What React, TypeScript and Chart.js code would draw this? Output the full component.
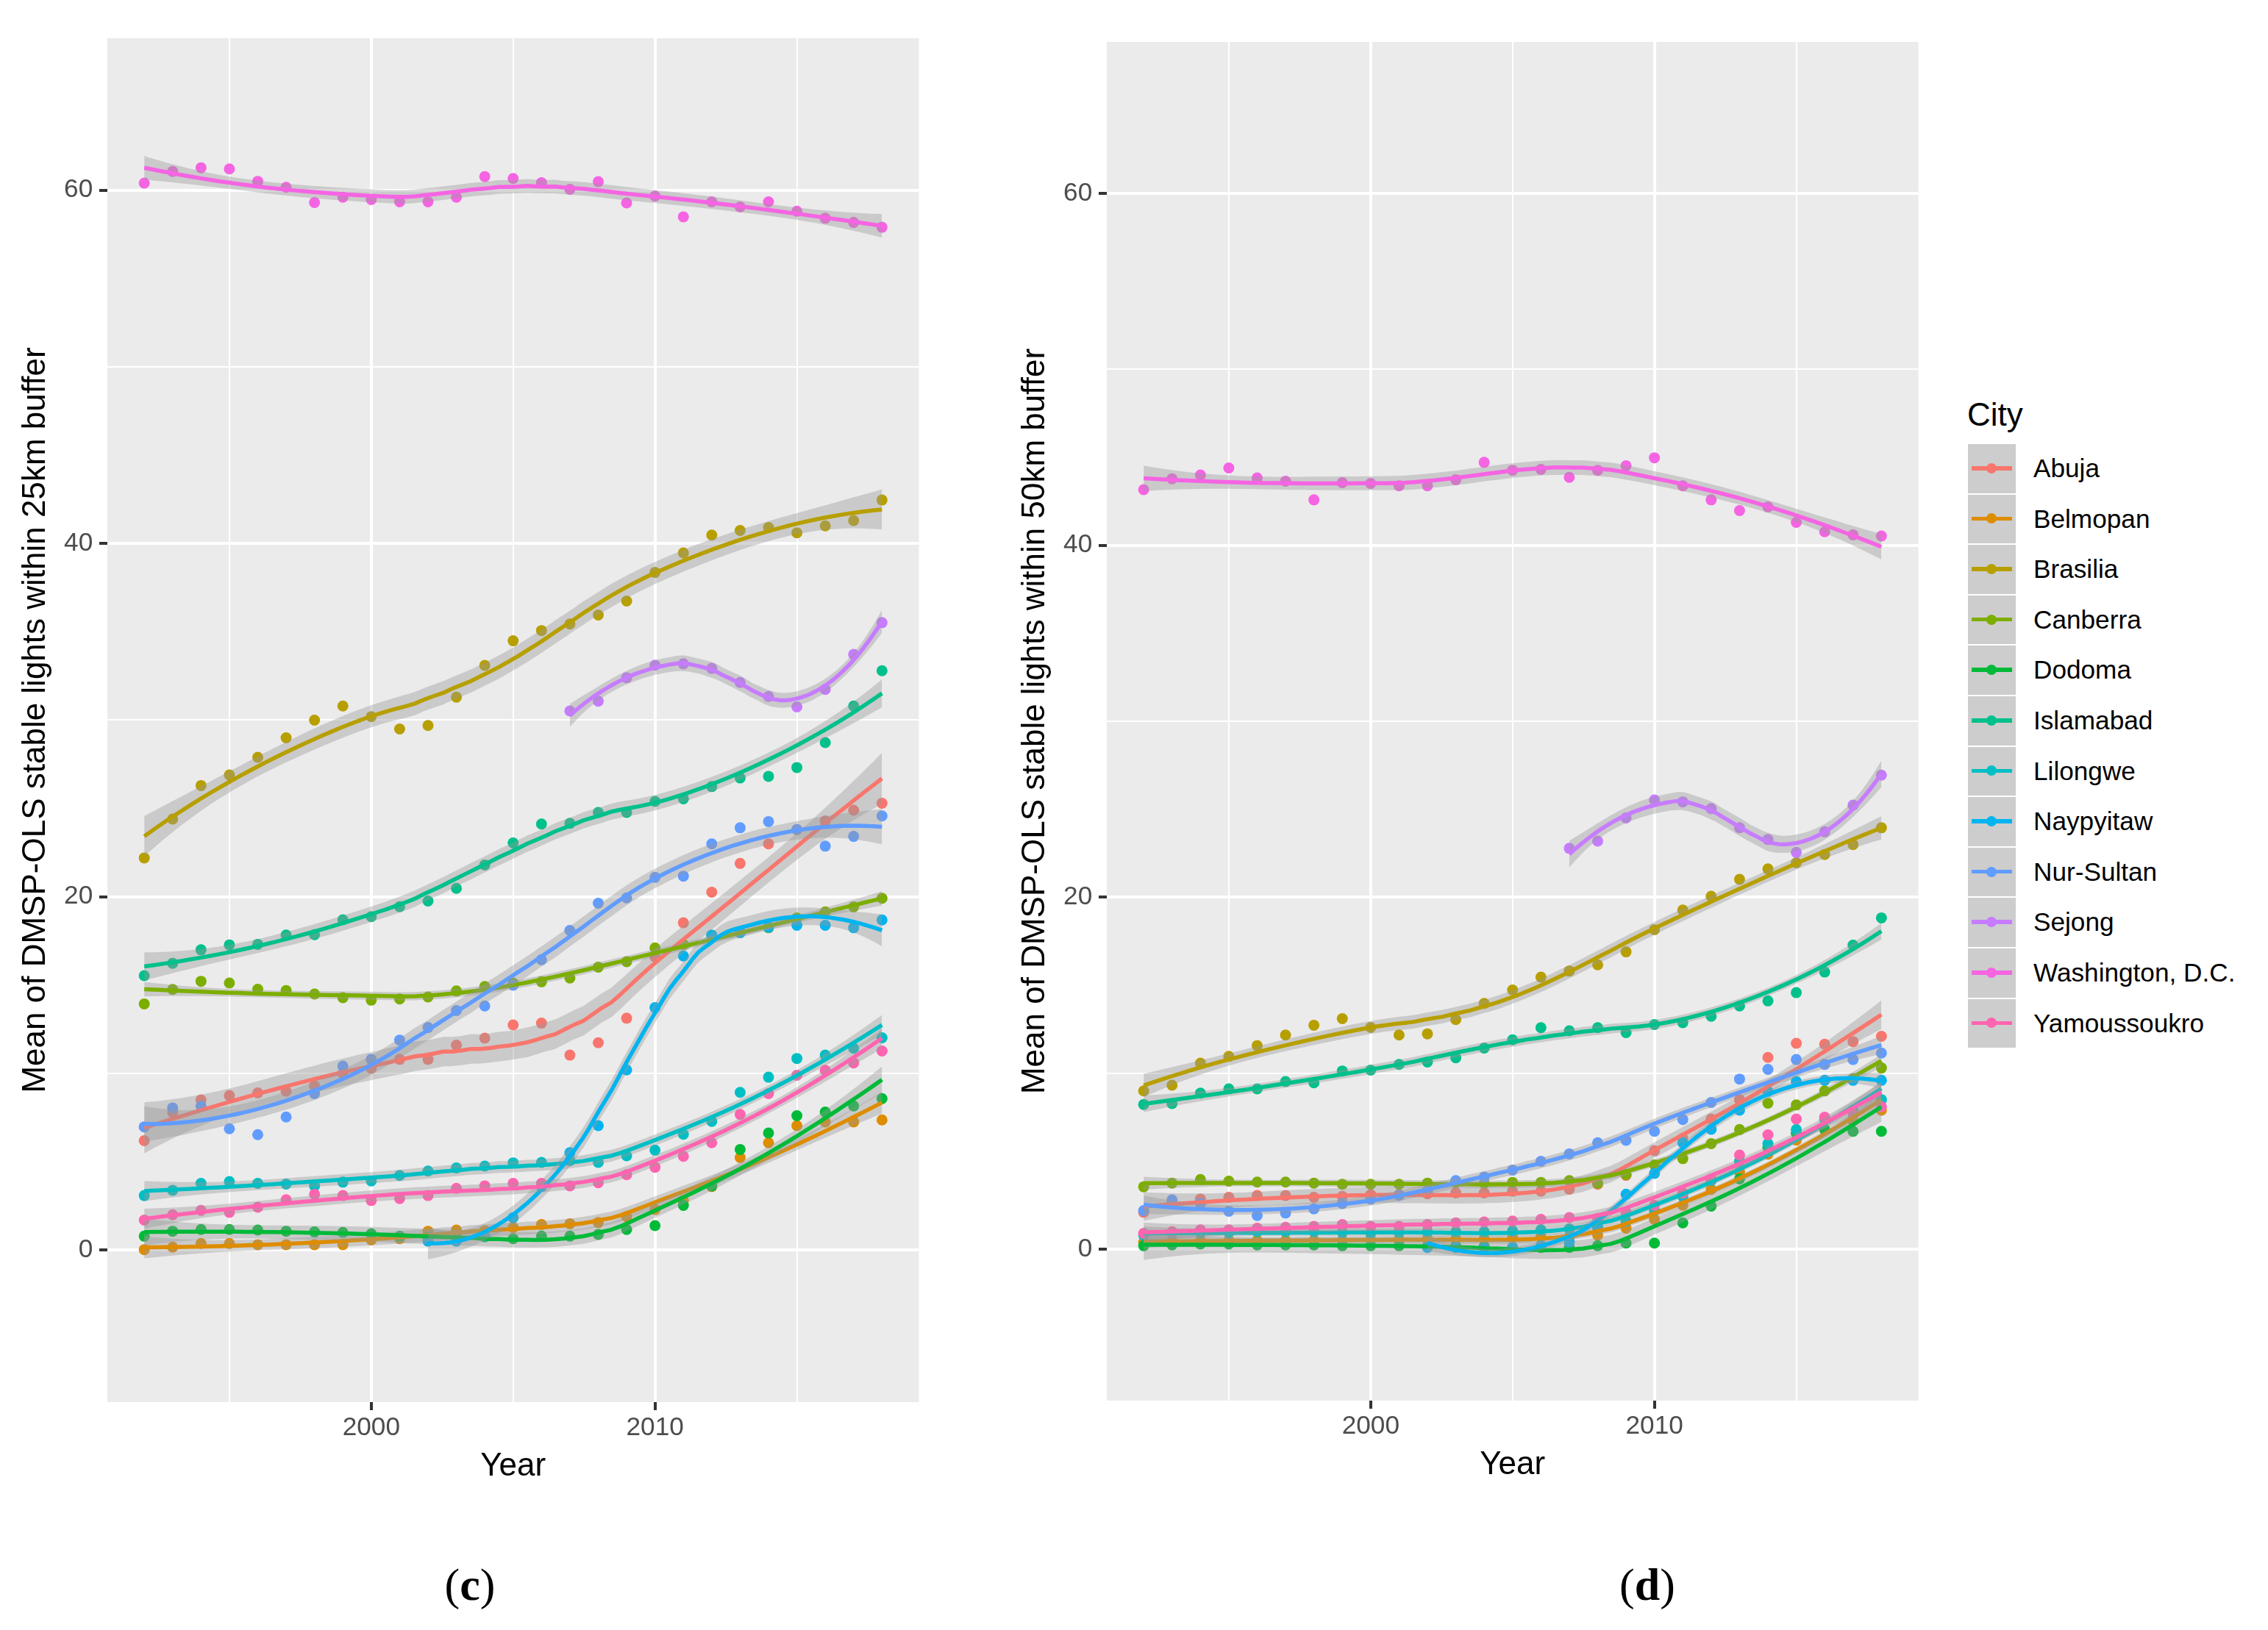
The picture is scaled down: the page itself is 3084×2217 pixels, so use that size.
import React, { useEffect, useRef } from "react";
import { Chart, registerables } from "chart.js";

Chart.register(...registerables);

// ---------------- data ----------------
const years = [1992, 1993, 1994, 1995, 1996, 1997, 1998, 1999, 2000, 2001, 2002, 2003, 2004, 2005, 2006, 2007, 2008, 2009, 2010, 2011, 2012, 2013, 2014, 2015, 2016, 2017, 2018];

const cities = ["Abuja", "Belmopan", "Brasilia", "Canberra", "Dodoma", "Islamabad", "Lilongwe", "Naypyitaw", "Nur-Sultan", "Sejong", "Washington, D.C.", "Yamoussoukro"];
const cityColors = ["#F8766D", "#DE8C00", "#B79F00", "#7CAE00", "#00BA38", "#00C08B", "#00BFC4", "#00B4F0", "#619CFF", "#C77CFF", "#F564E3", "#FF64B0"];

const N = null;

// (c) 25 km buffer
const abuja25 = [6.2, 7.8, 8.5, 8.75, 8.9, 9.0, 9.3, 10.0, 10.3, 10.8, 10.8, 11.6, 12.0, 12.75, 12.85, 11.04, 11.74, 13.13, 16.6, 18.53, 20.26, 21.89, 23.0, 23.8, 24.3, 24.9, 25.3];
const belmopan25 = [0.03, 0.17, 0.38, 0.38, 0.31, 0.31, 0.31, 0.31, 0.58, 0.65, 1.07, 1.14, 1.1, 1.28, 1.45, 1.49, 1.56, 1.9, 2.3, 2.8, 3.6, 5.24, 6.08, 7.05, 7.26, 7.26, 7.37];
const brasilia25 = [22.2, 24.4, 26.3, 26.9, 27.9, 29.0, 30.0, 30.8, 30.2, 29.5, 29.7, 31.3, 33.1, 34.49, 35.07, 35.44, 35.95, 36.74, 38.36, 39.47, 40.48, 40.74, 40.9, 40.6, 41.0, 41.3, 42.46];
const canberra25 = [13.94, 14.76, 15.22, 15.12, 14.77, 14.7, 14.5, 14.29, 14.15, 14.22, 14.33, 14.67, 14.92, 15.12, 15.19, 15.4, 16.02, 16.33, 17.11, 17.3, 17.83, 17.97, 18.25, 18.8, 19.15, 19.43, 19.92];
const dodoma25 = [0.79, 1.07, 1.17, 1.17, 1.14, 1.07, 1.03, 1.0, 0.93, 0.79, 0.73, 0.79, 0.76, 0.65, 0.79, 0.79, 0.89, 1.17, 1.39, 2.53, 3.64, 5.7, 6.63, 7.61, 7.82, 8.16, 8.58];
const islamabad25 = [15.54, 16.24, 17.0, 17.28, 17.31, 17.84, 17.86, 18.7, 18.88, 19.44, 19.76, 20.48, 21.8, 23.05, 24.12, 24.16, 24.78, 24.78, 25.4, 25.55, 26.24, 26.73, 26.82, 27.32, 28.73, 30.8, 32.8];
const lilongwe25 = [3.09, 3.39, 3.78, 3.88, 3.78, 3.74, 3.64, 3.85, 3.92, 4.23, 4.48, 4.65, 4.76, 4.94, 4.97, 5.06, 4.97, 5.34, 5.66, 6.56, 7.29, 8.93, 9.79, 10.85, 11.04, 11.43, 12.02];
const naypyitaw25 = [N, N, N, N, N, N, N, N, N, N, 0.51, 0.51, 0.8, 1.84, 3.6, 5.52, 7.05, 10.2, 13.73, 16.65, 17.83, 17.97, 18.28, 18.39, 18.39, 18.25, 18.69];
const nurSultan25 = [6.98, 8.05, 8.16, 6.87, 6.54, 7.54, 8.86, 10.42, 10.8, 11.89, 12.6, 13.56, 13.82, 15.0, 16.44, 18.1, 19.64, 19.94, 21.1, 21.17, 23.0, 23.91, 24.26, 23.81, 22.87, 23.42, 24.58];
const sejong25 = [N, N, N, N, N, N, N, N, N, N, N, N, N, N, N, 30.52, 31.07, 32.4, 33.11, 33.19, 32.93, 32.13, 31.34, 30.75, 31.74, 33.72, 35.52];
const washington25 = [60.4, 61.06, 61.27, 61.2, 60.5, 60.16, 59.3, 59.6, 59.47, 59.34, 59.34, 59.6, 60.77, 60.66, 60.42, 60.05, 60.48, 59.28, 59.66, 58.49, 59.34, 59.05, 59.34, 58.81, 58.41, 58.17, 57.9];
const yamoussoukro25 = [1.7, 2.0, 2.25, 2.14, 2.43, 2.85, 3.16, 3.09, 2.81, 2.92, 3.09, 3.5, 3.64, 3.78, 3.78, 3.64, 3.81, 4.27, 4.69, 5.31, 6.08, 7.68, 8.86, 9.9, 10.18, 10.6, 11.27];

// (d) 50 km buffer
const abuja50 = [2.1, 2.6, 2.85, 2.95, 3.05, 3.05, 2.95, 3.0, 3.1, 3.1, 3.15, 3.2, 3.2, 3.3, 3.3, 3.41, 3.69, 4.2, 5.6, 6.3, 7.4, 8.5, 10.9, 11.7, 11.65, 11.8, 12.1];
const belmopan50 = [0.4, 0.45, 0.5, 0.5, 0.5, 0.5, 0.5, 0.5, 0.55, 0.55, 0.6, 0.6, 0.6, 0.65, 0.7, 0.7, 0.8, 1.2, 1.7, 2.5, 3.4, 4.4, 5.4, 6.2, 6.8, 7.3, 7.9];
const brasilia50 = [9.0, 9.32, 10.57, 10.96, 11.57, 12.17, 12.73, 13.1, 12.6, 12.17, 12.24, 13.05, 13.97, 14.73, 15.46, 15.81, 16.16, 16.9, 18.16, 19.27, 20.06, 21.02, 21.61, 21.96, 22.43, 22.99, 23.95];
const canberra50 = [3.55, 3.76, 3.96, 3.87, 3.82, 3.82, 3.76, 3.69, 3.69, 3.69, 3.76, 3.8, 3.75, 3.8, 3.8, 3.9, 3.75, 4.25, 4.8, 5.15, 6.0, 6.8, 8.3, 8.2, 9.0, 9.7, 10.3];
const dodoma50 = [0.2, 0.25, 0.3, 0.3, 0.25, 0.25, 0.25, 0.2, 0.2, 0.2, 0.15, 0.2, 0.15, 0.1, 0.1, 0.1, 0.2, 0.35, 0.35, 1.5, 2.45, 4.0, 5.8, 6.6, 6.8, 6.7, 6.7];
const islamabad50 = [8.23, 8.28, 8.87, 9.11, 9.11, 9.53, 9.46, 10.13, 10.18, 10.5, 10.64, 10.88, 11.43, 11.9, 12.59, 12.41, 12.59, 12.31, 12.77, 12.87, 13.24, 13.82, 14.11, 14.58, 15.75, 17.28, 18.83];
const lilongwe50 = [0.8, 0.95, 0.95, 0.95, 1.0, 1.0, 1.0, 0.95, 0.9, 0.95, 1.0, 1.0, 1.0, 1.05, 1.1, 1.15, 1.2, 1.6, 2.2, 3.0, 3.9, 5.0, 6.0, 6.8, 7.4, 7.9, 8.5];
const naypyitaw50 = [N, N, N, N, N, N, N, N, N, N, 0.1, 0.1, 0.05, 0.1, 0.2, 0.4, 1.3, 3.13, 4.31, 6.05, 6.82, 7.9, 8.97, 9.53, 9.6, 9.6, 9.6];
const nurSultan50 = [2.2, 2.8, 2.6, 2.16, 1.92, 2.06, 2.29, 2.6, 2.85, 3.06, 3.3, 3.9, 4.1, 4.5, 5.0, 5.42, 6.05, 6.19, 6.7, 7.37, 8.34, 9.67, 10.22, 10.78, 10.5, 10.78, 11.15];
const sejong50 = [N, N, N, N, N, N, N, N, N, N, N, N, N, N, N, 22.78, 23.19, 24.51, 25.53, 25.42, 25.04, 23.95, 23.28, 22.55, 23.72, 25.24, 26.94];
const washington50 = [43.16, 43.78, 43.99, 44.39, 43.83, 43.64, 42.58, 43.56, 43.51, 43.38, 43.38, 43.72, 44.71, 44.26, 44.31, 43.86, 44.26, 44.52, 44.97, 43.38, 42.58, 41.97, 42.18, 41.3, 40.77, 40.59, 40.53];
const yamoussoukro50 = [0.9, 1.0, 1.1, 1.1, 1.2, 1.25, 1.3, 1.4, 1.3, 1.3, 1.4, 1.5, 1.55, 1.6, 1.7, 1.8, 1.75, 2.1, 2.5, 3.2, 4.0, 5.35, 6.5, 7.4, 7.5, 7.7, 8.1];

const panel25 = [abuja25, belmopan25, brasilia25, canberra25, dodoma25, islamabad25, lilongwe25, naypyitaw25, nurSultan25, sejong25, washington25, yamoussoukro25];
const panel50 = [abuja50, belmopan50, brasilia50, canberra50, dodoma50, islamabad50, lilongwe50, naypyitaw50, nurSultan50, sejong50, washington50, yamoussoukro50];

const xGridYears = [1995, 2000, 2005, 2010, 2015];
const xLabelYears = [2000, 2010];
const yGridValues = [0, 10, 20, 30, 40, 50, 60];
const yLabelValues = [0, 20, 40, 60];

// ---------------- loess (ggplot2 geom_smooth default: span .75, degree 2, 95% CI) ----------------
function inv3(m: number[][]) {
  const [a, b, c] = m[0];
  const [d, e, f] = m[1];
  const [g, h, i] = m[2];
  const A = e * i - f * h, B = -(d * i - f * g), C = d * h - e * g;
  const det = a * A + b * B + c * C;
  return [
    [A / det, -(b * i - c * h) / det, (b * f - c * e) / det],
    [B / det, (a * i - c * g) / det, -(a * f - c * d) / det],
    [C / det, -(a * h - b * g) / det, (a * e - b * d) / det],
  ];
}

function operatorRow(xs: number[], x0: number, q: number) {
  const d = xs.map((x) => Math.abs(x - x0));
  const s = [...d].sort((p, r) => p - r);
  const h = Math.max(s[Math.min(q, xs.length) - 1], 1e-9);
  const w = d.map((di) => {
    const u = di / h;
    return u < 1 ? Math.pow(1 - u * u * u, 3) : 0;
  });
  const S = [[0, 0, 0], [0, 0, 0], [0, 0, 0]];
  xs.forEach((x, k) => {
    const dx = x - x0;
    const v = [1, dx, dx * dx];
    for (let a = 0; a < 3; a++) for (let b = 0; b < 3; b++) S[a][b] += w[k] * v[a] * v[b];
  });
  const I = inv3(S);
  return xs.map((x, k) => {
    const dx = x - x0;
    return w[k] * (I[0][0] + I[0][1] * dx + I[0][2] * dx * dx);
  });
}

function tQuantile975(df: number) {
  const z = 1.959964;
  const g1 = (z ** 3 + z) / 4;
  const g2 = (5 * z ** 5 + 16 * z ** 3 + 3 * z) / 96;
  const g3 = (3 * z ** 7 + 19 * z ** 5 + 17 * z ** 3 - 15 * z) / 384;
  return z + g1 / df + g2 / df ** 2 + g3 / df ** 3;
}

function loess(xs: number[], ys: number[], span: number) {
  const n = xs.length;
  const q = Math.floor(n * span);
  const L = xs.map((x0) => operatorRow(xs, x0, q));
  const yhat = L.map((r) => r.reduce((acc, v, k) => acc + v * ys[k], 0));
  const rss = ys.reduce((acc, y, k) => acc + (y - yhat[k]) ** 2, 0);
  const IL = L.map((r, i) => r.map((v, j) => (i === j ? 1 : 0) - v));
  const M: number[][] = [];
  for (let a = 0; a < n; a++) {
    M.push([]);
    for (let b = 0; b < n; b++) {
      let s = 0;
      for (let i = 0; i < n; i++) s += IL[i][a] * IL[i][b];
      M[a].push(s);
    }
  }
  let d1 = 0, d2 = 0;
  for (let a = 0; a < n; a++) {
    d1 += M[a][a];
    for (let b = 0; b < n; b++) d2 += M[a][b] * M[a][b];
  }
  const sigma = Math.sqrt(rss / d1);
  const t = tQuantile975((d1 * d1) / d2);
  const xmin = Math.min(...xs), xmax = Math.max(...xs);
  const grid: number[] = [];
  for (let k = 0; k < 80; k++) grid.push(xmin + ((xmax - xmin) * k) / 79);
  const fit: number[] = [], lo: number[] = [], hi: number[] = [];
  grid.forEach((g) => {
    const r = operatorRow(xs, g, q);
    const f = r.reduce((acc, v, k) => acc + v * ys[k], 0);
    const se = sigma * Math.sqrt(r.reduce((acc, v) => acc + v * v, 0));
    fit.push(f);
    lo.push(f - t * se);
    hi.push(f + t * se);
  });
  return { grid, fit, lo, hi };
}

// ---------------- chart ----------------
const FONT = "'Liberation Sans', Arial, Helvetica, sans-serif";

function buildDatasets(series: (number | null)[][]) {
  const ds: any[] = [];
  series.forEach((vals, k) => {
    const pts = years.map((x, i) => ({ x, y: vals[i] })).filter((p) => p.y !== null);
    ds.push({
      data: pts,
      showLine: false,
      pointRadius: 7.5,
      pointHoverRadius: 7.5,
      pointBackgroundColor: cityColors[k],
      pointBorderWidth: 0,
      borderColor: "rgba(0,0,0,0)",
      order: 5000 - k,
    });
  });
  series.forEach((vals, k) => {
    const pts = years.map((x, i) => ({ x, y: vals[i] })).filter((p) => p.y !== null) as { x: number; y: number }[];
    const sm = loess(pts.map((p) => p.x), pts.map((p) => p.y), 0.75);
    const lowerIndex = ds.length;
    ds.push({
      data: sm.grid.map((x, i) => ({ x, y: sm.lo[i] })),
      borderWidth: 0,
      borderColor: "rgba(0,0,0,0)",
      pointRadius: 0,
      fill: false,
      order: 1000 - 10 * k,
    });
    ds.push({
      data: sm.grid.map((x, i) => ({ x, y: sm.hi[i] })),
      borderWidth: 0,
      borderColor: "rgba(0,0,0,0)",
      pointRadius: 0,
      fill: lowerIndex,
      backgroundColor: "rgba(153,153,153,0.4)",
      order: 1000 - 10 * k - 1,
    });
    ds.push({
      data: sm.grid.map((x, i) => ({ x, y: sm.fit[i] })),
      borderColor: cityColors[k],
      borderWidth: 5.5,
      pointRadius: 0,
      fill: false,
      tension: 0,
      order: 1000 - 10 * k - 2,
    });
  });
  return ds;
}

const panelBackground = {
  id: "panelBackground",
  beforeDraw(chart: any) {
    const { ctx, chartArea: a } = chart;
    ctx.save();
    ctx.fillStyle = "#EBEBEB";
    ctx.fillRect(a.left, a.top, a.right - a.left, a.bottom - a.top);
    ctx.restore();
  },
};

type Geo = { left: number; width: number; height: number; padTop: number };

const X_AXIS_H = 114;

function Panel({ geo, series, yTitle }: { geo: Geo; series: (number | null)[][]; yTitle: string }) {
  const ref = useRef<HTMLCanvasElement>(null);
  useEffect(() => {
    if (!ref.current) return;
    const chart = new Chart(ref.current, {
      type: "line",
      data: { datasets: buildDatasets(series) },
      plugins: [panelBackground],
      options: {
        animation: false,
        responsive: false,
        events: [],
        layout: { padding: { left: 0, right: 0, top: geo.padTop, bottom: 0 } },
        plugins: { legend: { display: false }, tooltip: { enabled: false } },
        scales: {
          x: {
            type: "linear",
            min: 1990.7,
            max: 2019.3,
            afterBuildTicks: (s: any) => {
              s.ticks = xGridYears.map((v) => ({ value: v }));
            },
            afterFit: (s: any) => {
              s.height = X_AXIS_H;
            },
            ticks: {
              autoSkip: false,
              maxRotation: 0,
              minRotation: 0,
              padding: 3,
              color: "#4D4D4D",
              font: { family: FONT, size: 35.2 },
              callback: (v: any) => (xLabelYears.includes(Number(v)) ? String(v) : ""),
            },
            grid: {
              color: "#FFFFFF",
              lineWidth: (c: any) => (xLabelYears.includes(c.tick?.value) ? 4 : 2),
              drawTicks: true,
              tickLength: 11,
              tickWidth: 4,
              tickColor: (c: any) => (xLabelYears.includes(c.tick?.value) ? "#333333" : "rgba(0,0,0,0)"),
            },
            border: { display: false },
            title: {
              display: true,
              text: "Year",
              color: "#000000",
              font: { family: FONT, size: 44 },
              padding: { top: 0, bottom: 0 },
            },
          },
          y: {
            type: "linear",
            min: -8.6,
            max: 68.6,
            afterBuildTicks: (s: any) => {
              s.ticks = yGridValues.map((v) => ({ value: v }));
            },
            afterFit: (s: any) => {
              s.width = 146;
            },
            ticks: {
              autoSkip: false,
              padding: 8.8,
              color: "#4D4D4D",
              font: { family: FONT, size: 35.2 },
              callback: (v: any) => (yLabelValues.includes(Number(v)) ? String(v) : ""),
            },
            grid: {
              color: "#FFFFFF",
              lineWidth: (c: any) => (yLabelValues.includes(c.tick?.value) ? 4 : 2),
              drawTicks: true,
              tickLength: 11,
              tickWidth: 4,
              tickColor: (c: any) => (yLabelValues.includes(c.tick?.value) ? "#333333" : "rgba(0,0,0,0)"),
            },
            border: { display: false },
            title: {
              display: true,
              text: yTitle,
              color: "#000000",
              font: { family: FONT, size: 44 },
              padding: { top: 22.6, bottom: 0 },
            },
          },
        },
      } as any,
    });
    return () => chart.destroy();
  }, []);
  return (
    <canvas
      ref={ref}
      width={geo.width}
      height={geo.height}
      style={{ position: "absolute", left: geo.left, top: 0, width: geo.width, height: geo.height }}
    />
  );
}

function Legend() {
  const top0 = 603;
  const rowH = 68.6;
  return (
    <div style={{ position: "absolute", left: 0, top: 0 }}>
      <div
        style={{
          position: "absolute",
          left: 2675,
          top: 534,
          height: 60,
          lineHeight: "60px",
          fontFamily: FONT,
          fontSize: 44,
          color: "#000",
          whiteSpace: "nowrap",
        }}
      >
        City
      </div>
      {cities.map((c, k) => (
        <React.Fragment key={c}>
          <div
            style={{
              position: "absolute",
              left: 2675,
              top: top0 + k * rowH,
              width: 67,
              height: rowH,
              boxSizing: "border-box",
              border: "1.5px solid #FFFFFF",
              background: "#CDCDCD",
            }}
          >
            <div
              style={{
                position: "absolute",
                left: 5,
                right: 5,
                top: rowH / 2 - 1.5 - 2.75,
                height: 5.5,
                background: cityColors[k],
              }}
            />
            <div
              style={{
                position: "absolute",
                left: 67 / 2 - 1.5 - 7,
                top: rowH / 2 - 1.5 - 7,
                width: 14,
                height: 14,
                borderRadius: 7,
                background: cityColors[k],
              }}
            />
          </div>
          <div
            style={{
              position: "absolute",
              left: 2765,
              top: top0 + k * rowH,
              height: rowH,
              lineHeight: `${rowH}px`,
              fontFamily: FONT,
              fontSize: 35.2,
              color: "#000",
              whiteSpace: "nowrap",
            }}
          >
            {c}
          </div>
        </React.Fragment>
      ))}
    </div>
  );
}

function PanelLabel({ cx, text }: { cx: number; text: string }) {
  return (
    <div
      style={{
        position: "absolute",
        left: cx - 100,
        width: 200,
        top: 2155 - 40,
        height: 80,
        lineHeight: "80px",
        textAlign: "center",
        fontFamily: "'Liberation Serif', 'Times New Roman', serif",
        fontSize: 62,
        color: "#000",
      }}
    >
      (<b>{text}</b>)
    </div>
  );
}

export default function App() {
  return (
    <div
      style={{
        position: "absolute",
        left: 0,
        top: 0,
        width: 3084,
        height: 2217,
        background: "#FFFFFF",
        overflow: "hidden",
      }}
    >
      <Panel
        geo={{ left: 0, width: 1257, height: 1907 + X_AXIS_H, padTop: 52 }}
        series={panel25}
        yTitle="Mean of DMSP-OLS stable lights within 25km buffer"
      />
      <Panel
        geo={{ left: 1359, width: 1257, height: 1905 + X_AXIS_H, padTop: 57 }}
        series={panel50}
        yTitle="Mean of DMSP-OLS stable lights within 50km buffer"
      />
      <Legend />
      <PanelLabel cx={639} text="c" />
      <PanelLabel cx={2240} text="d" />
    </div>
  );
}
